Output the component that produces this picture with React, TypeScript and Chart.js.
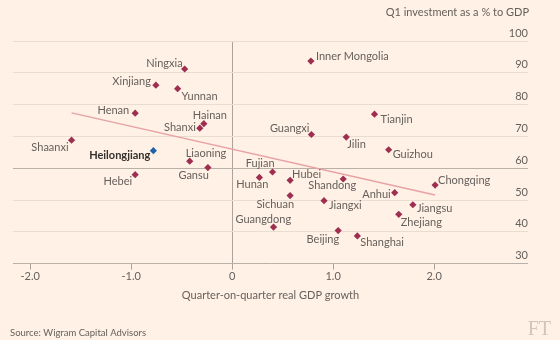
import { useEffect, useRef } from "react";
import { Chart, registerables } from "chart.js";

Chart.register(...registerables);

// ---- data ----
const provinces = [
  "Inner Mongolia", "Ningxia", "Xinjiang", "Yunnan", "Henan", "Tianjin", "Hainan", "Shanxi",
  "Guangxi", "Jilin", "Shaanxi", "Guizhou", "Heilongjiang", "Liaoning", "Gansu", "Fujian",
  "Hebei", "Hunan", "Shandong", "Hubei", "Chongqing", "Anhui", "Sichuan", "Jiangxi",
  "Jiangsu", "Zhejiang", "Guangdong", "Beijing", "Shanghai",
];
const growth = [
  0.78, -0.47, -0.755, -0.54, -0.96, 1.41, -0.28, -0.32,
  0.785, 1.13, -1.59, 1.55, -0.78, -0.42, -0.24, 0.4,
  -0.96, 0.27, 1.1, 0.574, 2.01, 1.61, 0.574, 0.91,
  1.79, 1.65, 0.41, 1.05, 1.24,
];
const investment = [
  93.7, 91.2, 86.1, 85.0, 77.3, 77.0, 74.0, 72.6,
  70.6, 69.8, 68.8, 65.8, 65.5, 62.2, 60.2, 58.8,
  57.95, 57.1, 56.6, 56.2, 54.7, 52.3, 51.4, 49.8,
  48.5, 45.5, 41.5, 40.4, 38.7,
];
const trendGrowth = [-1.59, 2.01];
const trendInvestment = [77.4, 51.6];
const xTickValues = [-2, -1, 0, 1, 2];
const yTickValues = [30, 40, 50, 60, 70, 80, 90, 100];
const highlighted = "Heilongjiang";
const yTitle = "Q1 investment as a % to GDP";
const xTitle = "Quarter-on-quarter real GDP growth";
const source = "Source: Wigram Capital Advisors";

// label placement: [textAlign, dx, dy]
const labelAnchors: Record<string, [CanvasTextAlign, number, number]> = {
  "Inner Mongolia": ["left", 5, -5],
  Ningxia: ["right", -2, -6],
  Xinjiang: ["right", -5, -4],
  Yunnan: ["left", 4, 8],
  Henan: ["right", -6, -3],
  Tianjin: ["left", 6, 5],
  Hainan: ["left", -11, -8],
  Shanxi: ["right", -4, -1],
  Guangxi: ["right", -2, -6],
  Jilin: ["left", 1, 7],
  Shaanxi: ["right", -3, 7],
  Guizhou: ["left", 4, 5],
  Heilongjiang: ["right", -3, 5],
  Liaoning: ["left", -4, -8],
  Gansu: ["right", 1, 8],
  Fujian: ["right", 2, -9],
  Hebei: ["right", -3, 7],
  Hunan: ["right", 9, 7],
  Shandong: ["right", 13, 6],
  Hubei: ["left", 2, -6],
  Chongqing: ["left", 3, -5],
  Anhui: ["right", -4, 2],
  Sichuan: ["right", 4, 9],
  Jiangxi: ["left", 5, 5],
  Jiangsu: ["left", 4, 4],
  Zhejiang: ["left", 2, 8],
  Guangdong: ["left", -38, -8],
  Beijing: ["right", 1, 9],
  Shanghai: ["left", 3, 7],
};

const FONT = "Lato, 'Open Sans', sans-serif";
const BG = "#FFF1E5";
const TEXT = "#66605C";
const CLARET = "#9E2F50";
const BLUE = "#1F63A8";

const bgPlugin = {
  id: "bg",
  beforeDraw(chart: any) {
    const c = chart.ctx;
    c.save();
    c.fillStyle = BG;
    c.fillRect(0, 0, chart.width, chart.height);
    c.restore();
  },
};

const labelPlugin = {
  id: "pointLabels",
  afterDatasetsDraw(chart: any) {
    const meta = chart.getDatasetMeta(1);
    const c = chart.ctx;
    c.save();
    c.textBaseline = "middle";
    meta.data.forEach((el: any, i: number) => {
      const name = provinces[i];
      const a = labelAnchors[name] || ["left", 4, 0];
      const hl = name === highlighted;
      c.font = `${hl ? "bold " : ""}11px ${FONT}`;
      c.fillStyle = hl ? "#33302E" : TEXT;
      c.textAlign = a[0];
      c.fillText(name, el.x + a[1], el.y + a[2]);
    });
    c.restore();
  },
};

const chromePlugin = {
  id: "chrome",
  afterDraw(chart: any) {
    const c = chart.ctx;
    c.save();
    c.textBaseline = "middle";
    c.fillStyle = TEXT;
    c.font = `11px ${FONT}`;
    c.textAlign = "right";
    c.fillText(yTitle, 529, 12);
    c.font = `9.5px ${FONT}`;
    c.textAlign = "left";
    c.fillText(source, 10, 333);
    c.fillStyle = "#CFC5BB";
    c.font = `20px 'Liberation Serif', serif`;
    c.textAlign = "right";
    c.fillText("FT", 551, 330);
    c.restore();
  },
};

export default function App() {
  const ref = useRef<HTMLCanvasElement>(null);
  useEffect(() => {
    document.body.style.margin = "0";
    document.body.style.background = BG;
    const canvas = ref.current!;
    const chart = new Chart(canvas, {
      type: "scatter",
      data: {
        datasets: [
          {
            type: "line",
            data: trendGrowth.map((x, i) => ({ x, y: trendInvestment[i] })),
            borderColor: "#E8A1A4",
            borderWidth: 1.5,
            pointRadius: 0,
            fill: false,
            order: 2,
          } as any,
          {
            type: "scatter",
            data: growth.map((x, i) => ({ x, y: investment[i] })),
            pointStyle: "rectRot",
            pointRadius: 3.6,
            pointBorderWidth: 0,
            pointBackgroundColor: provinces.map((p) => (p === highlighted ? BLUE : CLARET)),
            pointBorderColor: provinces.map((p) => (p === highlighted ? BLUE : CLARET)),
            order: 1,
          } as any,
        ],
      },
      options: {
        responsive: false,
        animation: false,
        events: [],
        layout: { padding: { left: 13, right: 32, top: 41, bottom: 38 } },
        plugins: { legend: { display: false }, tooltip: { enabled: false } },
        scales: {
          x: {
            type: "linear",
            position: "bottom",
            min: -2.17,
            max: 2.93,
            afterBuildTicks: (s: any) => {
              s.ticks = xTickValues.map((v) => ({ value: v }));
            },
            grid: {
              color: (ctx: any) => (ctx.tick && ctx.tick.value === 0 ? "#ABA39C" : "rgba(0,0,0,0)"),
              lineWidth: 1,
              drawTicks: true,
              tickLength: 6,
              tickColor: "#ABA39C",
            },
            border: { display: false },
            ticks: {
              padding: 0,
              color: TEXT,
              font: { family: FONT, size: 11 },
              maxRotation: 0,
              callback: (v: any) => (v === 0 ? "0" : Number(v).toFixed(1)),
            },
            title: {
              display: true,
              text: xTitle,
              color: TEXT,
              font: { family: FONT, size: 11 },
              padding: { top: 6, bottom: 0 },
            },
          },
          y: {
            type: "linear",
            position: "right",
            min: 30,
            max: 100,
            afterBuildTicks: (s: any) => {
              s.ticks = yTickValues.map((v) => ({ value: v }));
            },
            grid: {
              color: (ctx: any) =>
                ctx.tick && (ctx.tick.value === 60 || ctx.tick.value === 30) ? "#B9B0A8" : "#E9DCD0",
              lineWidth: 1,
              drawTicks: false,
            },
            border: { display: false },
            ticks: {
              mirror: true,
              padding: 0,
              labelOffset: -8,
              color: TEXT,
              font: { family: FONT, size: 11 },
            },
          },
        },
      },
      plugins: [bgPlugin, labelPlugin, chromePlugin],
    });
    return () => chart.destroy();
  }, []);
  return <canvas ref={ref} width={560} height={340} style={{ display: "block", width: 560, height: 340 }} />;
}
